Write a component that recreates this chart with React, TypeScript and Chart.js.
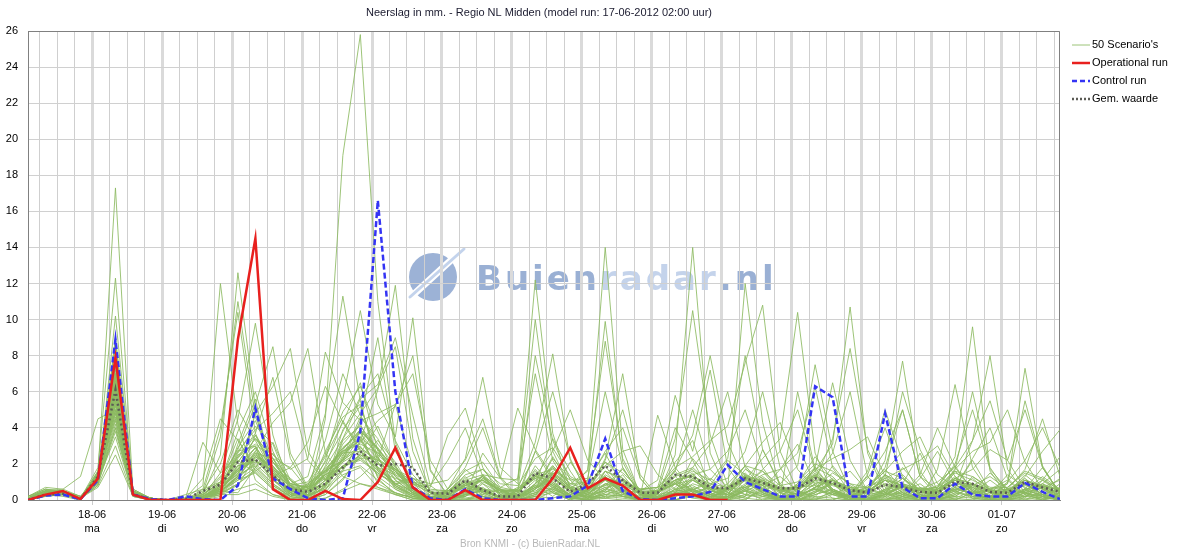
import React, { useEffect, useRef } from 'react';
import { Chart, registerables } from 'chart.js';

Chart.register(...registerables);

const TITLE = 'Neerslag in mm. - Regio NL Midden (model run: 17-06-2012 02:00 uur)';
const SOURCE = 'Bron KNMI - (c) BuienRadar.NL';
const WATERMARK_PARTS = [
  { text: 'Buien', dark: true },
  { text: 'radar', dark: false },
  { text: '.nl', dark: true },
];

// time axis in hours relative to 18-06-2012 00:00; first value at 17-06 02:00, one value every 6 hours
const START_HOUR = -22;
const STEP_HOURS = 6;
const END_HOUR = 332;
const DAY_LABELS = ['18-06', '19-06', '20-06', '21-06', '22-06', '23-06', '24-06', '25-06', '26-06', '27-06', '28-06', '29-06', '30-06', '01-07'];
const WEEKDAYS = ['ma', 'di', 'wo', 'do', 'vr', 'za', 'zo', 'ma', 'di', 'wo', 'do', 'vr', 'za', 'zo'];
const Y_MAX = 26;
const Y_STEP = 2;

const LEGEND_LABELS = ["50 Scenario's", 'Operational run', 'Control run', 'Gem. waarde'];

const OPERATIONAL = [0, .3, .5, .05, 1.2, 7.9, .3, 0, 0, 0, 0, 0, 8.9, 14.5, .6, 0, 0, .5, .05, 0, 1, 2.9, .7, 0, 0, .55, 0, 0, 0, 0, 1.2, 2.9, .65, 1.2, .8, 0, 0, .3, .3, 0, 0];

const CONTROL = [0, .25, .3, .05, 1.1, 8.9, .3, .05, 0, .2, .05, 0, .8, 5.1, 1.2, .6, .1, 0, .1, 3.8, 16.6, 6, .7, .1, 0, .6, .1, 0, 0, 0, .1, .2, .8, 3.4, .5, .05, 0, .1, .2, .45, 1.95, 1, .6, .2, .2, 6.3, 5.7, .2, .2, 4.8, .7, .1, .1, .9, .3, .2, .2, .95, .45, .05];

const MEAN = [0, .3, .35, .05, 1.3, 6.1, .3, .05, 0, .05, .5, .85, 2.1, 2.25, 1.35, .6, .45, .9, 1.8, 2.7, 1.9, 2, 1.8, .4, .35, 1.1, .55, .2, .2, 1.5, 1.2, .45, .9, 1.9, 1.1, .4, .4, 1.4, 1.3, .7, .65, 1.2, .95, .65, .65, 1.2, .95, .55, .4, .85, .7, .45, .4, 1, .9, .45, .4, 1, .7, .45];

const SCENARIOS: number[][] = [
  [.1,.5,.4,.1, 1.2,7,.4,0, 0,0,.1,.5, .4,1.8,3.2,1.1, .2,4.5,19.1,25.8, 11,3.2,.6,0, 0,.2,1.4,.3, 0,0,.5,2.1, .8,.1,0,0, .3,1.6,.4,0, 0,.2,2.8,.9, .1,0,0,.4, 1.3,.2,0,0, 0,.7,2.2,.5, 0,.1,1.1,2.4],
  [.1,.4,.5,.1, 1.5,17.3,.5,0, 0,0,0,.2, 3.1,5.6,1.2,.2, 0,.3,1.1,2.6, 4.1,1.9,.3,0, 0,0,.2,0, .1,.9,3.4,1.6, .2,.5,1.8,.3, 0,.4,2.3,1.1, .2,0,.6,1.7, 3.1,.8,.1,0, 0,.5,1.2,.3, 0,0,.4,1.5, .6,.1,0,.3],
  [0,.3,.3,.1, 1.8,12.3,.4,.1, 0,.1,.8,12, 4.2,1.1,.3,.1, 0,.8,3.9,5.2, 2.4,.7,.2,0, .3,1.7,.9,.1, 0,.2,.1,.4, 1.1,2.6,.7,0, 0,0,.3,.8, 2.2,1.4,.3,0, 0,.4,1.9,.7, .1,0,.2,1.2, 2.7,.9,.1,0, 0,.6,1.8,.4],
  [.1,.6,.5,.2, 1,10.2,.6,.1, 0,0,.3,2.5, 12.6,5.1,1.4,.3, 0,.1,.6,1.3, 2.2,5.3,1.8,.2, 0,.4,1.2,.5, .1,2.7,1.1,.2, 0,.3,.6,.1, .4,2.1,3.3,.6, 0,0,.7,.2, .9,2.4,1.1,.3, 0,.2,.9,2.6, .5,0,0,.3, 1.4,.7,.2,0],
  [.1,.3,.4,.1, 1.3,8,.3,0, 0,0,.2,1.5, 4.5,9.8,3.6,.6, .1,.4,1.6,3.3, 6.1,11.9,3.4,.4, 0,.1,.3,0, 0,.6,2.4,.8, .3,1.3,.4,0, 0,.9,1.5,.3, .1,.6,.2,0, .4,1.8,.6,.1, 0,0,.5,.9, .2,1.6,.7,.1, 0,.3,.9,.2],
  [.1,.4,.3,.1, 1,7.5,.3,0, 0,0,.1,.4, .8,2.4,1.9,.4, .1,1.9,4.4,2.8, .9,.4,.1,0, 0,.3,2.6,1.2, 1.1,12.2,3.7,.6, 0,.2,.9,.3, .3,2.5,14,2.6, .4,.1,0,.2, .6,1.4,.5,0, 0,.3,1.8,.7, .1,0,.4,1.1, .4,0,.2,.9],
  [0,.2,.3,.1, .8,6,.2,0, 0,0,0,.3, .6,.9,.3,0, 0,.3,1.2,2.4, 3.3,2.1,.5,.1, 0,0,.4,.2, .3,.8,.2,.9, 1.6,14,2.8,.3, 0,.2,.5,1.2, .6,12,4.3,.7, .1,0,.3,.8, .2,1.1,.4,0, 0,.3,1.3,.6, .1,0,.5,1.2],
  [.1,.5,.4,.1, 1.1,5.5,.4,.1, 0,0,.1,.6, 1.3,3.6,2.1,1.2, .4,2.7,4.6,5.3, 2.1,.6,.1,0, .2,1.1,.6,.1, 0,.4,.9,.2, 0,.2,.1,0, .6,1.3,.4,.1, .2,1.1,2.3,3.4, 10.4,2.6,.4,0, 0,.6,1.4,.5, .7,2.4,9.6,1.6, .2,.9,.3,0],
  [0,.3,.4,.1, 1.4,4.5,.3,0, 0,0,.2,.8, 1.7,2.9,.8,.2, .9,1.6,2.8,3.9, 1.2,.3,0,0, 0,0,.3,.6, .2,1.9,.7,.1, .5,.8,1.7,.4, 0,.3,.9,.6, .1,.5,.2,.4, .8,1.6,3.1,10.7, 2.6,.4,0,0, .3,1.2,.5,.2, .9,7.3,1.8,.3],
  [.1,.4,.5,.2, .9,9,.5,.1, 0,0,.2,.5, 1.1,1.8,2.6,.9, 1.3,4.8,11.3,5.5, 1.6,.7,.3,0, .1,.9,.4,0, 0,.1,.7,.3, .9,1.9,.5,.1, .1,.4,.2,0, .7,1.5,.6,.1, 0,.2,1.1,.6, .4,2.2,7.7,1.6, .2,.8,3.3,8, 1.7,.4,0,.2],
  [.1,.3,.2,0, 1.2,5,.3,0, 0,0,.1,.6, 2.6,4.1,3.1,.7, .3,2.2,5.6,10.5, 5.3,3.5,10.1,1.7, .2,.4,.1,0, 0,.3,1.2,.5, .1,.6,1.4,.2, 0,0,.4,.7, .3,1.3,.8,0, 0,.4,.9,1.6, .5,.1,0,.2, .6,1.1,.4,0, .3,.5,1.3,.6],
  [.2,.6,.5,.1, 1,6.5,.4,0, 0,0,.3,1, 3.4,1.6,.7,.1, .2,.7,3.3,4.1, 2.8,1.1,.4,.1, .6,2.3,6.8,1.8, .9,10,2.7,.7, 1.1,9.9,2.1,.3, 0,.6,.3,0, .2,.9,1.6,.4, 0,0,.5,.2, .8,1.7,.6,.1, 0,.4,.2,.6, 1.1,.3,0,.4],
  [.1,.4,.4,.1, 1.6,5,.4,.1, 0,0,.2,.7, 1.9,2.2,1.3,1.8, .6,.9,1.9,2.2, 1.5,.9,1.2,.4, .1,.3,.2,0, .4,1.7,.6,.1, 0,.5,.3,.6, .7,1.8,2.4,3.3, 4.1,7.6,10.8,2.7, .5,.2,.1,0, 0,.4,1.2,.5, .1,.2,.8,1.3, .6,.2,.1,0],
  [.1,.3,.3,.1, .9,4,.3,0, 0,0,.4,3.5, 11,4.6,2.3,.6, .2,.6,1.4,1.8, .7,.3,0,0, .5,1.3,.2,0, 0,.2,1.5,.4, .2,.7,.9,.5, 1.1,5.8,2.7,7.2, 1.8,.5,0,0, .2,.7,1.2,.3, 0,.1,.6,.4, .8,1.9,.5,0, .1,.4,.2,.7],
  [0,.2,.3,0, 1.1,3.5,.3,0, 0,0,.1,.4, .9,1.6,2.3,.8, .1,.5,2.4,4.6, 3.4,1.4,.4,.1, .2,.9,1.3,.4, .6,3.2,8.1,2.2, .4,2.3,7,1.2, .1,0,.3,.1, 0,.5,.9,.4, .2,.9,.3,0, .6,1.4,.7,.2, 0,.1,.5,.2, .4,1.4,.6,.1],
  [.1,.5,.6,.2, 1.3,7,.5,.1, 0,0,.2,.8, 1.4,4.8,6.3,8.4, 2.7,1.1,1.6,1.9, 1.1,.4,.1,0, .3,.2,1,.6, 0,.3,.5,.1, .4,.9,.2,0, 0,.6,1.3,.8, .3,.1,.5,.9, 1.9,7.5,2.7,.5, .1,0,.3,.7, .4,1.2,.9,.2, 0,.2,.9,1.7],
  [.1,.4,.3,.1, 1.5,6,.4,0, 0,0,.1,.5, 1.2,2.7,4.3,5.4, 8.4,2.6,1.3,.9, .6,.3,.2,0, .4,.1,0,.2, .7,1.4,.5,0, 0,.4,1.1,.3, .2,.3,.7,.4, .9,1.9,.8,.1, 0,.3,.6,.2, .6,1.8,5,1.3, .2,.5,.1,0, .3,1.3,2.7,3.9],
  [.2,.5,.4,.1, 1,5.5,.3,0, 0,.1,.3,1, 2.1,3.4,2.5,1.7, 2.3,8.2,5.4,4.4, 9,2.7,1.1,.2, 0,.5,1.1,.3, .1,.4,1.8,.6, .2,.1,.5,.4, .5,.9,.2,0, .1,.7,1.3,.6, .3,1.1,3.4,8.4, 2.8,.7,.2,0, .2,.6,.9,.4, .1,.4,.2,0],
  [.1,.3,.4,.1, 1.2,4.8,.4,0, 0,0,.2,.6, 1.6,2.3,1.1,.4, .2,.9,3.4,5.6, 6.4,9,4.7,.8, .1,.3,.5,.1, .4,1.5,.8,.2, 0,1.6,1.2,.3, .5,3.4,10.5,3.6, .8,.3,.1,0, 0,.5,.9,.4, .7,.3,.1,.4, .3,1.7,6,1.8, .4,.6,.2,0],
  [0,.3,.4,.1, 1.1,6.3,.4,.1, 0,0,.1,.4, 1.4,1.9,.9,.2, .6,1.7,2.9,3.7, 2.5,1.6,.4,0, .6,1.6,2.1,.7, .5,8,3.3,1.1, .2,.6,.4,0, .1,.5,1.2,.3, .3,1.4,.5,.2, 6,1.7,.6,.2, 0,.4,.2,0, .5,1.1,.4,.6, .9,5.5,1.9,.3],
  [.1,.4,.5,.1, 1.4,5.2,.3,0, 0,0,.3,1.2, 2.8,5.3,8.5,2.6, .7,1.2,1.8,2.3, 2.4,.8,.2,0, .3,.7,.4,0, 0,.3,1.6,.7, .1,.3,.2,0, .4,.9,.3,.1, .6,1.3,.4,.1, .2,.7,1.5,.9, .3,1.4,.5,.1, 1.7,6.4,1.8,.4, .2,.5,1.1,.4],
  [.1,.3,.3,.1, 1,4.2,.3,0, 0,.1,3.2,1.5, 2.2,1.5,.6,.2, .3,.6,1.7,3.2, 4.4,5.2,8,1.6, .3,.7,.2,0, .2,1.1,.4,0, .5,1.4,.8,.1, 0,.2,.6,.9, .4,.2,.8,1.3, .5,.1,0,.3, 1.6,5,2.1,.3, 0,.3,.7,.2, .6,.9,.3,0],
  [.1,.5,.4,.1, 1.2,6.8,.4,.1, 0,0,.2,.5, 1.2,2.1,1.7,.8, .2,1.5,2.6,2.7, 1.6,1.2,.9,.7, 3.6,5.1,1.8,.3, 0,.6,1.3,.5, 1.7,8.8,2.3,.4, .1,.4,.3,.2, .5,1.2,.6,0, .2,.4,1.1,.5, 0,.3,.8,.4, .5,1.3,.6,.1, .3,.2,.7,1.1],
  [.1,.4,.3,.1, 1.5,7.8,.5,0, 0,0,.2,.7, 2.3,3.6,1.5,.4, .8,1.6,2.2,3.8, 2.9,1.6,.5,.1, 0,.3,1.4,1.2, 5.1,2.8,1.3,.4, .1,.9,.6,.1, .4,1.1,1.6,1.1, 2.3,8,2.8,.8, .1,.5,.3,0, .5,1.1,.8,.2, .3,.7,2.3,4, 1.2,.3,0,.2],
  [.1,.3,.4,.1, 1,5.8,.3,0, 0,0,.1,.3, .9,1.7,.8,.2, .8,3.3,7,4.7, 3.1,1.9,.6,0, .1,.2,.9,.4, .1,.8,.6,.2, .3,1.1,.5,0, 0,.3,1.1,.5, .3,.8,1.7,2.7, 5,1.6,.5,.1, .2,.6,.3,0, .4,.9,.2,.1, .6,1.7,4.5,1.3],
  [.1,.4,.4,.1, .8,3,.2,0, 0,0,.1,.4, 1.1,1.5,.6,.1, .2,1.1,2.2,2.9, 2.1,.8,.3,0, 0,.5,.7,.1, .5,1.2,.4,0, .3,.7,.2,.1, .4,1.7,3.6,8, 3.2,1,.4,.1, .4,1.8,6.5,2.2, .5,.8,.3,1.4, 4,1.8,.6,.1, .2,.5,.8,.3],
  [.1,.5,.5,.1, 1.3,6.2,.4,.1, 0,0,.5,2, 5,3.3,1.5,.3, .1,.8,2.5,3.4, 1.8,.9,.5,.1, .5,1,.6,.2, .4,1.3,2.7,5, 2.2,1.1,.4,0, .1,.2,.5,.3, 0,.6,1.1,.5, .3,.6,.3,.7, .4,1.3,6,2.8, .9,.5,.2,0, .4,1.1,.6,.1],
  [.1,.3,.3,.1, 1.1,4.6,.3,0, 0,0,.2,.6, 1.5,2.4,1.8,1.1, .5,.8,1.9,2.4, 1.4,1,1.2,.9, 1.1,2.2,4.5,1.3, .2,.7,1,.3, .5,2.2,5,1.4, .2,.4,.1,0, .2,.7,1.1,.6, .7,1.3,2.6,6, 1.3,.4,.1,0, .6,1.7,2.7,3.2, 5,2.1,.6,.1],
  [.1,.4,.3,.1, 1.2,5.6,.4,0, 0,0,.1,.5, 1.3,2.5,1.7,.9, .7,2.1,3.8,5.7, 7,3.3,1.4,.4, 0,.2,.6,.4, .3,2.7,6,2.3, .3,.5,.2,0, .2,.7,1.8,3.1, 6,1.8,.6,.1, 0,.3,.6,.2, .4,.9,.3,.1, .2,.6,.4,0, 0,.4,.7,.2],
  [.1,.4,.5,.2, 1.4,6.6,.5,.1, 0,0,.2,.7, 2.7,3,1.3,.5, .9,1.7,2.7,3.1, 2.6,1.7,1,.5, .5,1.1,1.4,.6, .2,.9,1.8,.9, .6,1.9,2.7,3, 1.4,.6,.3,.1, .6,1.9,3.2,4.3, 1.7,.6,.3,.2, .7,1.6,2.7,3.5, 1.4,.7,.3,.1, .2,.9,.7,.4],
  [.1,.3,.3,.1, .7,2.5,.2,0, 0,0,.1,.3, .3,.6,.2,0, 0,.1,.5,.9, .7,.4,.1,0, 0,0,.1,0, 0,.2,.4,.1, 0,.1,.3,.1, 0,0,.2,.1, 0,.3,.2,0, 0,.1,.4,.2, 0,0,.1,.3, .2,.1,0,0, 0,.2,.3,.1],
  [.2,.6,.4,.1, 1.6,8.5,.5,.1, 0,0,.2,.9, 2.9,4.4,2.1,.8, 1,2.5,4.9,6.3, 3.8,1.8,.6,.2, .4,1.4,1.7,.6, .1,.6,2.3,1.2, .7,2.1,1.2,.5, .4,1.3,1.7,.7, .3,1.7,1.2,.2, .9,1.8,1.3,.3, .2,1.4,.9,.1, .6,1.5,1.1,.6, .7,1.6,1.2,.5],
  [.1,.4,.4,.1, 1.2,5.3,.3,0, 0,0,.3,1, 3.8,6,2.7,.8, .3,1.1,3.1,4.2, 2.3,1.1,.4,0, .4,.9,.5,.1, .2,.5,.9,.3, .5,1.3,.3,0, .1,1,1.4,.6, .2,.8,1.4,1.7, 2.6,6.3,1.8,.4, .1,.6,.9,.3, 0,.2,.8,.5, .2,.9,.3,0],
  [.1,.3,.4,.1, 1,4.8,.4,0, 0,.1,1.2,4.5, 3.3,1.8,.9,.3, .8,2.4,4.3,6.5, 2.7,1.3,.4,0, .1,.8,1.3,.5, .2,.4,.6,.2, .4,.8,1.1,.5, 0,.3,.6,.2, .4,1.1,.4,0, .6,1.4,.5,.1, .2,.4,.7,.6, .7,2,5,1.7, .6,.4,.1,.2],
  [.1,.4,.3,.1, 1.3,7.2,.4,.1, 0,0,.2,.6, 1.5,2.6,1.4,.4, .2,.9,2.1,3.5, 1.7,.9,1,.8, 2.2,4,1.3,.2, .1,.7,1.4,.6, .6,1.6,.5,.2, 4.7,1.8,.6,.2, .1,.5,.3,0, .3,1.1,.9,.2, .6,.3,.8,.5, .1,.5,1.2,.4, .5,1.2,.4,.1],
  [.1,.3,.4,.1, 1,4,.3,0, 0,0,.1,.5, 1.9,2.9,1.1,.3, .5,1.4,2.8,3.9, 2.8,1.8,.6,.1, .2,.4,1.2,.6, .5,1.4,.9,.2, .2,1.6,1.1,.1, .5,1.1,1.3,.9, 1.2,2.7,6,1.8, .3,.6,.4,.1, 1.4,4,1.3,.2, 0,.4,.9,.2, .2,.5,.3,.6],
  [.1,.5,.4,.1, 1.5,6.4,.4,.1, 0,0,.3,.9, 2.4,3.7,6.8,2.3, .6,1.3,2.6,3.3, 2.3,1.6,.5,0, 0,.3,.5,.1, .6,1.6,.8,.1, .1,.4,.9,.6, .7,1.1,.5,.1, .1,.6,1.2,.7, .7,1.5,.6,0, .3,.5,.2,.6, .6,1.2,1.7,2.8, 2.2,5,1.8,.4],
  [.1,.4,.4,.1, 1.1,5.9,.3,0, 0,0,.2,.6, 1.7,2.9,1.8,.9, .7,1.8,3.4,4.8, 6.2,8.5,2.7,.4, .1,.5,1.3,.7, 1.2,7,2.2,.6, .1,.3,.2,0, .2,1.1,1.3,.3, .6,.3,.9,.5, .8,1.4,.5,.1, 0,.2,.8,.5, .4,1.2,.4,.1, .5,1.1,.7,.1],
  [.1,.3,.3,.1, 1.3,6.1,.4,0, 0,0,.4,1.3, 2.7,3.9,4.8,6, 2.2,1.1,1.9,2.3, 1.5,.8,.3,.1, .5,1,.6,.1, .2,.8,1.9,.7, .3,1.2,.6,.1, .7,1.6,5,1.7, .7,1.2,.4,0, .1,.7,1.1,.6, .1,.3,.4,.1, .5,1.1,.8,.2, .1,.6,.9,.5],
  [.1,.4,.5,.1, .9,3.8,.3,0, 0,.3,.6,1, 1.9,2.1,1.7,.7, .2,.7,2.3,3, 1.3,.6,.2,0, .4,.8,.6,.1, .5,1.4,1.7,1.1, 1.2,6,1.8,.3, .1,.4,1.1,.6, .6,1.3,.5,.2, .8,1.7,2.3,2.8, 3.5,1.3,.4,0, .1,.5,.9,.6, .4,.9,.2,0],
  [.1,.4,.4,.1, 1.2,8.8,.5,.1, 0,0,.6,4, 10.4,3.7,1.6,.5, .3,1.5,2.7,3.5, 2.6,1.7,1,.5, .1,.3,.6,.5, .5,1.3,1,.2, .5,1.3,.6,.1, .3,.5,.6,.2, .6,1.4,1,.6, .7,.8,.5,.2, .5,1.2,.8,.2, .2,.6,.4,.5, .5,1.1,.3,.1],
  [.1,.3,.4,.1, 1.4,5.4,.4,0, 0,0,.2,.8, 2.1,3.4,2.1,.9, .7,1.6,2.2,4.4, 4.8,5.3,7,2.2, .6,1.8,4,1.2, .1,.6,1.4,.6, .5,1.2,.5,0, .4,1,.6,.2, .2,.7,1,.2, .2,.6,.9,.5, .5,1.1,.4,.1, .1,.7,.9,.5, .1,.4,.7,.6],
  [.1,.5,.3,.1, 1,5,.3,0, 0,0,.1,.4, 1.3,2.4,1.5,.8, .5,1.2,2.2,2.9, 2.2,1.7,1.2,.6, .5,1.2,1.7,.9, .8,2.3,2.9,1.3, .8,2.1,1.5,.6, .5,1.4,1.8,.9, .7,1.9,1.6,.8, 1,2,1.6,.9, .7,1.6,1.2,.6, .7,1.6,1.3,.7, .7,1.5,1.1,.6],
  [.1,.4,.4,.1, 1.2,7,.4,.1, 0,0,.2,.6, 1.8,2.7,1.4,.5, .3,1.6,2.9,3.8, 2.8,1.7,.5,.1, .5,1,.6,.1, .1,.9,1.9,.9, 1,2.7,4,1.2, .1,.3,.6,.3, .7,1.3,.5,0, .1,.7,1.1,.7, .5,1.1,.8,.6, 1,1.8,3.3,5.5, 2.2,.6,.2,0],
  [.1,.3,.3,.1, 1.1,6,.4,0, 0,0,.2,.6, 1.7,2.6,2.3,1.8, 3.2,6.3,4.3,2.7, 1.7,.9,.3,0, .3,.8,1.1,.5, .6,1.3,.8,.1, .1,.6,1.1,.6, .7,4,2.2,.4, .1,.5,.9,.6, .6,1.1,.4,0, .1,.5,.9,.6, .5,.2,.1,.4, .5,.9,.7,.2],
  [.2,.7,.6,1.3, 4.5,5,.6,.1, 0,0,.1,.5, 1.3,2,1.1,.6, .6,1.4,1.8,2.5, 2.2,1.6,.9,.1, 0,.3,.5,.2, .5,1.2,.7,.1, .6,1.2,.4,0, 0,.4,1.2,.7, .6,.7,.3,.1, .5,1.3,.9,.1, 0,.3,.9,.6, .1,.6,.9,.5, .6,.4,.1,.4],
  [.1,.4,.3,.1, 1.3,6.7,.4,0, 0,0,.2,.7, 2.4,3,1.4,.4, .2,.9,2.7,3.3, 1.8,.9,.4,.3, .5,.8,.5,.1, .2,.7,1.5,.7, .6,1.3,.4,.1, .5,1.1,1.4,1.7, 2.7,5,1.8,.4, .7,1.3,1,.3, 1.2,2.7,5,1.3, .6,1.1,.4,0, .1,.6,.8,.5],
  [.1,.3,.4,.1, 1,4.4,.3,0, 0,0,.2,.6, 1.6,2.2,1.6,.7, .6,1.3,1.8,2.5, 1.8,1.4,.9,.4, .4,.7,.5,.1, .1,.7,1.2,.6, .5,1.1,.8,.4, .4,.9,.5,.2, .5,1.1,.8,.5, .6,1,.8,.5, .4,.9,.7,.4, .5,.9,.7,.4, .4,.8,.6,.3],
  [.1,.5,.5,.1, 1.4,7.4,.5,.1, 0,0,.2,.7, 2.5,3.1,2.3,1.1, .3,1.1,2.3,3.9, 2.9,1.3,.6,.1, .5,.9,1.1,.5, .5,1.3,1.5,.7, .1,.9,1.1,.5, .1,.6,.8,.3, .7,1.3,1.1,.6, .3,.9,1.1,.7, .7,1.2,1.7,2.2, 3,1.3,.5,.2, 1,2.2,4,1.8],
  [.1,.4,.4,.1, 1.2,5.7,.4,0, 0,0,.2,.6, 1.7,2.5,1.9,.8, .7,1.4,2.1,2.7, 2,1.5,.9,.4, .4,.8,1.1,.5, .5,1.2,1.4,.6, .5,1.2,1,.5, .5,.9,1.1,.6, .6,1.2,1,.5, .6,1.2,.9,.6, .5,1.1,.8,.5, .6,1.2,.9,.5, .6,1.1,.8,.6],
];

const FONT = '"Liberation Sans", Arial, Helvetica, sans-serif';
const WM_FONT = '"DejaVu Sans", Verdana, sans-serif';
const GREEN = 'rgba(140,186,96,0.85)';
const RED = '#e8201e';
const BLUE = '#3434f4';
const GREY = '#5b5b55';

const toPoints = (vals: number[]) => vals.map((y, i) => ({ x: START_HOUR + i * STEP_HOURS, y }));

const decorPlugin = {
  id: 'decor',
  beforeDraw(chart: any) {
    const ctx: CanvasRenderingContext2D = chart.ctx;
    ctx.save();
    ctx.fillStyle = '#ffffff';
    ctx.fillRect(0, 0, chart.width, chart.height);
    // watermark logo
    const cx = 433, cy = 277;
    ctx.fillStyle = '#9cb2d6';
    ctx.beginPath();
    ctx.arc(cx, cy, 24, 0, Math.PI * 2);
    ctx.fill();
    ctx.strokeStyle = '#ffffff';
    ctx.lineWidth = 7;
    ctx.lineCap = 'round';
    ctx.beginPath();
    ctx.moveTo(413, 295);
    ctx.lineTo(461, 251);
    ctx.stroke();
    ctx.lineWidth = 3;
    ctx.strokeStyle = '#c3d3ec';
    ctx.beginPath();
    ctx.moveTo(410, 297);
    ctx.lineTo(464, 249);
    ctx.stroke();
    // watermark text
    ctx.font = `bold 34px ${WM_FONT}`;
    ctx.textBaseline = 'alphabetic';
    ctx.textAlign = 'left';
    let x = 476;
    WATERMARK_PARTS.forEach((p) => {
      ctx.fillStyle = p.dark ? '#9ab0d4' : '#c4d3eb';
      for (const ch of p.text) {
        ctx.fillText(ch, x, 290);
        x += ctx.measureText(ch).width + 3;
      }
    });
    ctx.restore();
  },
  beforeDatasetsDraw(chart: any) {
    const ctx: CanvasRenderingContext2D = chart.ctx;
    const a = chart.chartArea;
    ctx.save();
    ctx.strokeStyle = '#808080';
    ctx.lineWidth = 1;
    ctx.beginPath();
    ctx.moveTo(a.left, a.top + 0.5);
    ctx.lineTo(a.right - 0.5, a.top + 0.5);
    ctx.lineTo(a.right - 0.5, a.bottom);
    ctx.stroke();
    ctx.restore();
  },
  afterDraw(chart: any) {
    const ctx: CanvasRenderingContext2D = chart.ctx;
    const a = chart.chartArea;
    ctx.save();
    // title
    ctx.font = `11px ${FONT}`;
    ctx.fillStyle = '#1a1a2e';
    ctx.textAlign = 'center';
    ctx.textBaseline = 'middle';
    ctx.fillText(TITLE, 539, 13);
    // source
    ctx.font = `10px ${FONT}`;
    ctx.fillStyle = '#b8b8b8';
    ctx.fillText(SOURCE, 530, 544);
    // legend
    const styles = [
      { color: GREEN, width: 1, dash: [] as number[] },
      { color: RED, width: 2.5, dash: [] as number[] },
      { color: BLUE, width: 2.5, dash: [5, 3] },
      { color: GREY, width: 2.5, dash: [2, 2] },
    ];
    ctx.font = `11px ${FONT}`;
    ctx.textAlign = 'left';
    LEGEND_LABELS.forEach((label, k) => {
      const y = a.top + 14 + k * 18;
      const s = styles[k];
      ctx.beginPath();
      ctx.setLineDash(s.dash);
      ctx.strokeStyle = s.color;
      ctx.lineWidth = s.width;
      ctx.moveTo(a.right + 12, y);
      ctx.lineTo(a.right + 30, y);
      ctx.stroke();
      ctx.setLineDash([]);
      ctx.fillStyle = '#000';
      ctx.fillText(label, a.right + 32, y);
    });
    ctx.restore();
  },
};

export default function App() {
  const ref = useRef<HTMLCanvasElement | null>(null);
  useEffect(() => {
    if (!ref.current) return;
    const isDay = (c: any) => c.tick && Math.abs(c.tick.value % 24) === 0;
    const datasets: any[] = [
      { label: LEGEND_LABELS[1], data: toPoints(OPERATIONAL), borderColor: RED, borderWidth: 2.5 },
      { label: LEGEND_LABELS[2], data: toPoints(CONTROL), borderColor: BLUE, borderWidth: 2.5, borderDash: [6, 3] },
      { label: LEGEND_LABELS[3], data: toPoints(MEAN), borderColor: GREY, borderWidth: 2.5, borderDash: [2, 3] },
      ...SCENARIOS.map((s, i) => ({
        label: i === 0 ? LEGEND_LABELS[0] : `Scenario ${i + 1}`,
        data: toPoints(s),
        borderColor: GREEN,
        borderWidth: 1,
      })),
    ];
    const chart = new Chart(ref.current, {
      type: 'line',
      data: { datasets },
      plugins: [decorPlugin],
      options: {
        responsive: false,
        animation: false,
        events: [],
        parsing: false as any,
        layout: { padding: { top: 31, right: 120, bottom: 0, left: 0 } },
        elements: {
          point: { radius: 0, hoverRadius: 0 },
          line: { tension: 0, fill: false, borderCapStyle: 'butt', borderJoinStyle: 'miter' },
        },
        plugins: {
          legend: { display: false },
          title: { display: false },
          tooltip: { enabled: false },
        },
        scales: {
          x: {
            type: 'linear',
            min: START_HOUR,
            max: END_HOUR,
            afterBuildTicks: (scale: any) => {
              const ticks: any[] = [];
              for (let h = Math.ceil(START_HOUR / STEP_HOURS) * STEP_HOURS; h <= END_HOUR; h += STEP_HOURS) ticks.push({ value: h });
              scale.ticks = ticks;
            },
            afterFit: (scale: any) => { scale.height = 50; },
            grid: {
              color: (c: any) => (isDay(c) ? '#dadada' : '#cfcfcf'),
              lineWidth: (c: any) => (isDay(c) ? 3 : 1),
              tickLength: 5,
              tickColor: (c: any) => (isDay(c) ? '#cccccc' : 'rgba(0,0,0,0)'),
              tickWidth: 1,
            },
            border: { display: true, color: '#808080', width: 1 },
            ticks: {
              autoSkip: false,
              maxRotation: 0,
              minRotation: 0,
              padding: 3,
              color: '#000',
              font: { size: 11, family: FONT, lineHeight: 1.25 },
              callback: (v: any) => {
                const h = Number(v);
                if (h % 24 !== 0) return '';
                const d = h / 24;
                return d >= 0 && d < DAY_LABELS.length ? [DAY_LABELS[d], WEEKDAYS[d]] : '';
              },
            },
          },
          y: {
            type: 'linear',
            min: 0,
            max: Y_MAX,
            afterFit: (scale: any) => { scale.width = 28; },
            grid: { color: '#d0d0d0', lineWidth: 1, drawTicks: false },
            border: { display: true, color: '#808080', width: 1 },
            ticks: { stepSize: Y_STEP, padding: 10, color: '#000', font: { size: 11, family: FONT } },
          },
        },
      } as any,
    });
    return () => chart.destroy();
  }, []);
  return (
    <div style={{ position: 'absolute', left: 0, top: 0, width: 1180, height: 550, background: '#fff' }}>
      <canvas ref={ref} width={1180} height={550} style={{ display: 'block', width: 1180, height: 550 }} />
    </div>
  );
}
